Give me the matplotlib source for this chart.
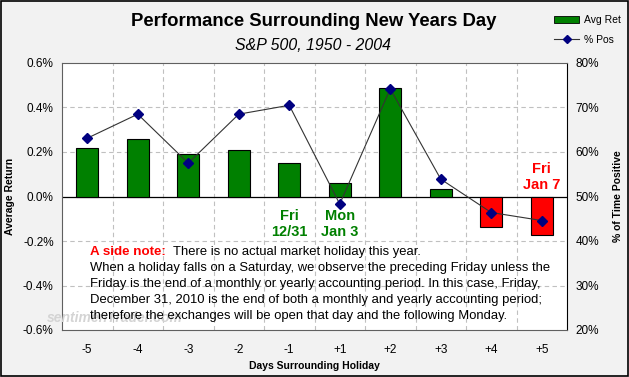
import numpy as np
import matplotlib.pyplot as plt
from matplotlib.patches import Rectangle
from matplotlib.lines import Line2D

plt.rcParams['font.family'] = ['Liberation Sans', 'DejaVu Sans']

#=== Data ===
days = ["-5", "-4", "-3", "-2", "-1", "+1", "+2", "+3", "+4", "+5"]
avg_ret = [0.220, 0.257, 0.190, 0.207, 0.152, 0.062, 0.486, 0.035, -0.135, -0.171]
pct_pos = [63.1, 68.5, 57.5, 68.5, 70.5, 48.3, 74.2, 53.9, 46.4, 44.6]

GREEN = "#008000"
RED = "#ff0000"
NAVY = "#000080"

fig = plt.figure(figsize=(6.29, 3.77), dpi=100, facecolor="#f2f2f2")
ax = fig.add_axes([62 / 629, 1 - 330 / 377, 505 / 629, 267 / 377])
ax.set_facecolor("white")

x = np.arange(len(days))
colors = [GREEN if v >= 0 else RED for v in avg_ret]
ax.bar(x, avg_ret, width=0.43, color=colors, edgecolor="black", linewidth=0.8, zorder=3)

ax.set_xlim(-0.5, len(days) - 0.5)
ax.set_ylim(-0.6, 0.6)
ax.set_yticks(np.arange(-0.6, 0.61, 0.2))
ax.set_yticklabels([f"{v:.1f}%" for v in np.arange(-0.6, 0.61, 0.2)], fontsize=8.5)
ax.set_xticks(x)
ax.set_xticklabels(days, fontsize=8.5)
ax.tick_params(length=0, pad=10)
ax.tick_params(axis="y", pad=6)

# grid
for b in np.arange(0.5, len(days) - 0.5, 1):
    ax.axvline(b, color="#c0c0c0", ls=(0, (4, 3)), lw=0.8, zorder=1)
for t in [-0.4, -0.2, 0.2, 0.4]:
    ax.axhline(t, color="#c0c0c0", ls=(0, (4, 3)), lw=0.8, zorder=1)
ax.axhline(0, color="black", lw=0.9, zorder=2)
for s in ["left", "top", "bottom"]:
    ax.spines[s].set_color("#606060")
ax.spines["right"].set_color("black")

ax.set_ylabel("Average Return", fontsize=7.5, fontweight="bold", labelpad=6)
ax.set_xlabel("Days Surrounding Holiday", fontsize=7.5, fontweight="bold", labelpad=4)

ax2 = ax.twinx()
ax2.plot(x, pct_pos, color="#333333", lw=0.8, marker="D", markersize=5,
         markerfacecolor=NAVY, markeredgecolor=NAVY, zorder=4)
ax2.set_ylim(20, 80)
ax2.set_yticks(np.arange(20, 81, 10))
ax2.set_yticklabels([f"{v}%" for v in range(20, 81, 10)], fontsize=8.5)
ax2.tick_params(length=0, pad=6)
ax2.set_ylabel("% of Time Positive", fontsize=7.5, fontweight="bold", labelpad=10)
for s in ax2.spines.values():
    s.set_visible(False)

# day annotations
ax.text(4, -0.058, "Fri\n12/31", color=GREEN, fontsize=10.5, fontweight="bold",
        ha="center", va="top", linespacing=1.15, zorder=5)
ax.text(5, -0.058, "Mon\nJan 3", color=GREEN, fontsize=10.5, fontweight="bold",
        ha="center", va="top", linespacing=1.15, zorder=5)
ax.text(9, 0.02, "Fri\nJan 7", color=RED, fontsize=10.5, fontweight="bold",
        ha="center", va="bottom", linespacing=1.15, zorder=5)

# watermark
fig.text(47 / 629, 1 - 318 / 377, "sentimenTrader.com", color="#d4d4d4", fontsize=10,
         fontweight="bold", style="italic", va="center", zorder=0)

# side note
fs = 9.4
fig.text(90 / 629, 1 - 252 / 377, "A side note:", color=RED, fontsize=9.6, fontweight="bold", va="center")
fig.text(173 / 629, 1 - 252 / 377, "There is no actual market holiday this year.", fontsize=fs, va="center")
note = ["When a holiday falls on a Saturday, we observe the preceding Friday unless the",
        "Friday is the end of a monthly or yearly accounting period. In this case, Friday,",
        "December 31, 2010 is the end of both a monthly and yearly accounting period;",
        "therefore the exchanges will be open that day and the following Monday."]
for i, line in enumerate(note):
    fig.text(90 / 629, 1 - (268 + 16 * i) / 377, line, fontsize=fs, va="center")

# titles
fig.text(314 / 629, 1 - 21 / 377, "Performance Surrounding New Years Day", fontsize=13.3,
         fontweight="bold", ha="center", va="center")
fig.text(313 / 629, 1 - 45 / 377, "S&P 500, 1950 - 2004", fontsize=11.4, style="italic",
         ha="center", va="center")

# legend
handles = [Rectangle((0, 0), 1, 1, facecolor=GREEN, edgecolor="black", lw=0.6),
           Line2D([], [], color="#333333", lw=0.8, marker="D", markersize=4.5,
                  markerfacecolor=NAVY, markeredgecolor=NAVY)]
fig.legend(handles, ["Avg Ret", "% Pos"], loc="upper left", bbox_to_anchor=(545 / 629, 1 - 6 / 377),
           fontsize=7.5, frameon=False, handlelength=2.4, handleheight=0.6,
           labelspacing=0.9, handletextpad=0.4)

# outer border
fig.patches.append(Rectangle((0.002, 0.003), 0.996, 0.994, transform=fig.transFigure,
                             fill=False, edgecolor="black", lw=1.2))

fig.savefig("out.png", dpi=100, facecolor=fig.get_facecolor())
